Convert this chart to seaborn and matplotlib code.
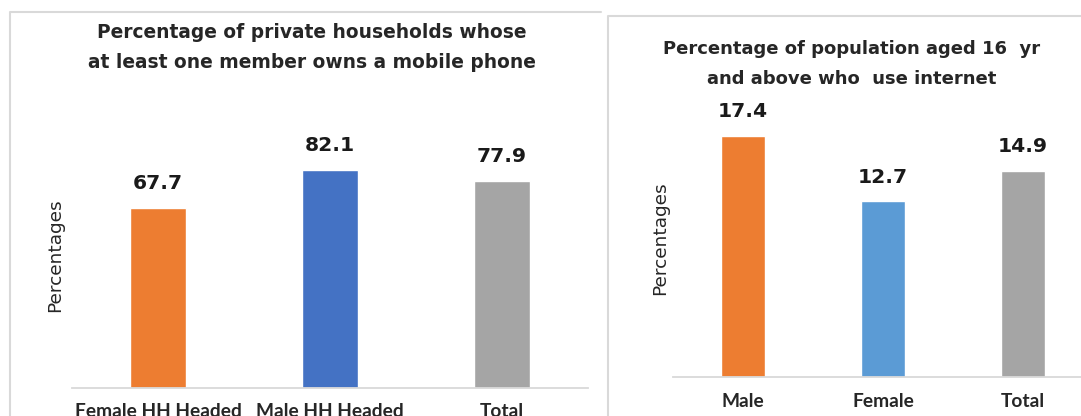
import matplotlib
matplotlib.use("Agg")
import matplotlib.pyplot as plt
import seaborn as sns
import pandas as pd
from matplotlib.lines import Line2D

# household mobile phone ownership
hh_categories = ["Female HH Headed", "Male HH Headed", "Total"]
hh_values = [67.7, 82.1, 77.9]
hh_colors = ["#ED7D31", "#4472C4", "#A5A5A5"]
hh_title = ["Percentage of private households whose",
            "at least one member owns a mobile phone"]

# internet use, population aged 16+
net_categories = ["Male", "Female", "Total"]
net_values = [17.4, 12.7, 14.9]
net_colors = ["#ED7D31", "#5B9BD5", "#A5A5A5"]
net_title = ["Percentage of population aged 16  yr",
             "and above who  use internet"]

W, H = 1081, 416
GRID = "#D9D9D9"
INK = "#262626"

sns.set_style("white")
plt.rcParams["font.family"] = ["DejaVu Sans"]


def px_axes(fig, x0, x1, y_bottom, y_top):
    return fig.add_axes([x0 / W, 1 - y_bottom / H, (x1 - x0) / W, (y_bottom - y_top) / H])


def fig_line(fig, xs, ys):
    fig.add_artist(Line2D([x / W for x in xs], [1 - y / H for y in ys],
                          transform=fig.transFigure, color=GRID, linewidth=1.5))


def draw_bars(ax, cats, vals, colors, ymax, ylabel_pad, tick_pad):
    df = pd.DataFrame({"cat": cats, "val": vals})
    sns.barplot(data=df, x="cat", y="val", hue="cat", palette=colors,
                width=0.32, legend=False, saturation=1, ax=ax)
    ax.set_ylim(0, ymax)
    ax.set_xlim(-0.5, 2.5)
    for c in ax.containers:
        ax.bar_label(c, fmt="%.1f", padding=10.5, fontsize=14.6, fontweight="bold",
                     color="#1a1a1a")
    sns.despine(ax=ax, left=True)
    ax.spines["bottom"].set_color(GRID)
    ax.spines["bottom"].set_linewidth(1.3)
    ax.set_yticks([])
    ax.set_xlabel("")
    ax.set_ylabel("Percentages", fontsize=13.3, color=INK, labelpad=ylabel_pad)
    ax.tick_params(axis="x", length=0, pad=tick_pad)
    for t in ax.get_xticklabels():
        t.set_fontfamily("Lato")
        t.set_fontsize(13.8)
        t.set_fontweight("bold")
        t.set_color(INK)
    ax.patch.set_alpha(0)


fig = plt.figure(figsize=(W / 100, H / 100), dpi=100)

# chart frames (only the top and left edges fall inside the picture)
fig_line(fig, [10, 10, 601], [416, 12, 12])
fig_line(fig, [608, 608, 1081], [416, 16, 16])

ax1 = px_axes(fig, 72, 588, 388, 122)
draw_bars(ax1, hh_categories, hh_values, hh_colors, 100, 5.5, 10.5)

ax2 = px_axes(fig, 673, 1093, 377, 100)
draw_bars(ax2, net_categories, net_values, net_colors, 20, 2.5, 11.5)

for line, y in zip(hh_title, [32, 63]):
    fig.text(312 / W, 1 - y / H, line, ha="center", va="center",
             fontsize=13.4, fontweight="bold", color=INK)
for line, y in zip(net_title, [49, 79]):
    fig.text(852 / W, 1 - y / H, line, ha="center", va="center",
             fontsize=13.0, fontweight="bold", color=INK)

fig.savefig("out.png", dpi=100)
